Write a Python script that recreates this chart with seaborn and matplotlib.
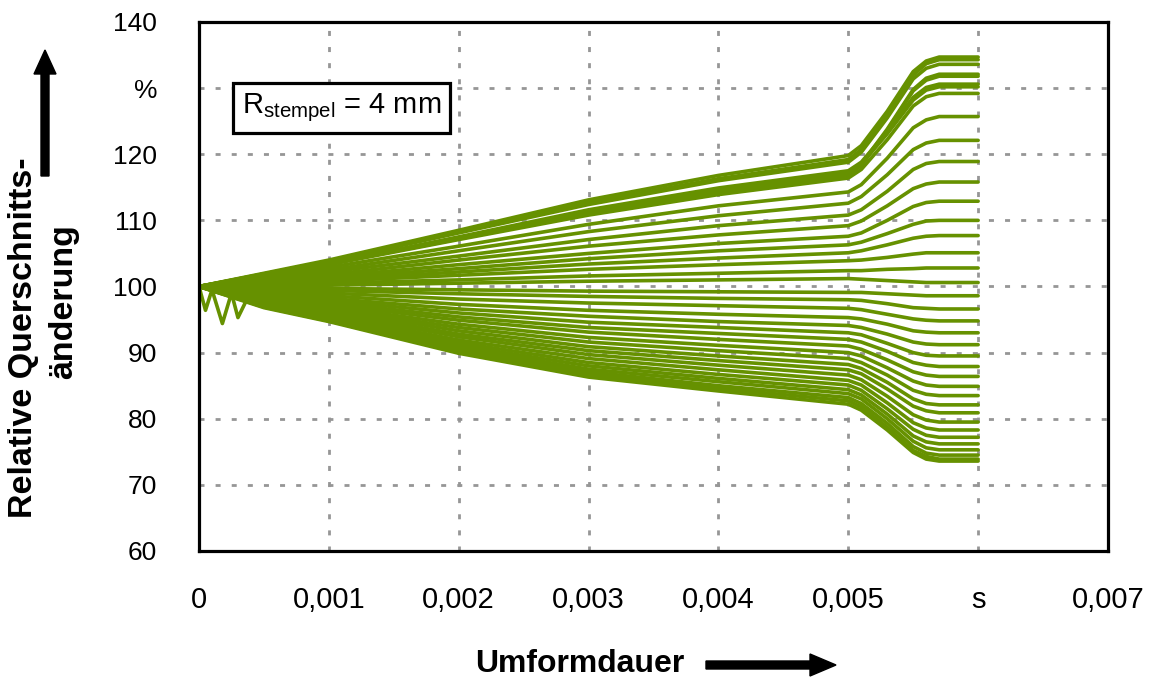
import matplotlib
matplotlib.use("Agg")
import matplotlib.pyplot as plt
import numpy as np
import pandas as pd
import seaborn as sns
from matplotlib.patches import FancyArrow
from matplotlib.transforms import IdentityTransform

# ---------------- data ----------------
time_s = [0, 0.0005, 0.001, 0.002, 0.003, 0.004, 0.005,
          0.0051, 0.0053, 0.0055, 0.0056, 0.0057, 0.006]

q01 = [100, 102.0, 104.0, 108.5, 113.1, 116.8, 119.8, 121.3, 126.5, 132.5, 134.1, 134.7, 134.7]
q02 = [100, 101.9, 103.8, 108.3, 112.7, 116.3, 119.2, 120.7, 126.0, 132.0, 133.7, 134.3, 134.3]
q03 = [100, 101.9, 103.8, 108.1, 112.4, 116.0, 118.8, 120.3, 125.5, 131.4, 133.0, 133.6, 133.6]
q04 = [100, 101.7, 103.4, 107.3, 111.2, 114.5, 117.0, 118.5, 123.8, 129.8, 131.5, 132.1, 132.1]
q05 = [100, 101.7, 103.4, 107.2, 111.1, 114.3, 116.8, 118.3, 123.6, 129.6, 131.2, 131.8, 131.8]
q06 = [100, 101.8, 103.5, 107.5, 111.6, 114.9, 117.5, 118.8, 123.4, 128.6, 130.1, 130.6, 130.6]
q07 = [100, 101.7, 103.4, 107.4, 111.4, 114.6, 117.2, 118.5, 123.1, 128.2, 129.7, 130.2, 130.2]
q08 = [100, 101.6, 103.3, 107.1, 110.8, 113.9, 116.4, 117.7, 122.2, 127.3, 128.7, 129.2, 129.2]
q09 = [100, 101.4, 102.9, 106.1, 109.4, 112.2, 114.3, 115.4, 119.4, 124.0, 125.2, 125.7, 125.7]
q10 = [100, 101.3, 102.5, 105.4, 108.3, 110.7, 112.6, 113.6, 116.9, 120.7, 121.7, 122.1, 122.1]
q11 = [100, 101.1, 102.2, 104.6, 107.1, 109.2, 110.8, 111.6, 114.4, 117.7, 118.6, 118.9, 118.9]
q12 = [100, 100.9, 101.8, 104.0, 106.1, 107.8, 109.2, 109.9, 112.2, 114.8, 115.5, 115.8, 115.8]
q13 = [100, 100.8, 101.5, 103.3, 105.0, 106.5, 107.6, 108.1, 110.0, 112.1, 112.7, 112.9, 112.9]
q14 = [100, 100.6, 101.3, 102.7, 104.2, 105.4, 106.3, 106.7, 108.0, 109.4, 109.9, 110.0, 110.0]
q15 = [100, 100.5, 101.0, 102.2, 103.4, 104.3, 105.1, 105.4, 106.3, 107.3, 107.6, 107.7, 107.7]
q16 = [100, 100.4, 100.8, 101.7, 102.6, 103.3, 103.9, 104.0, 104.4, 104.9, 105.1, 105.1, 105.1]
q17 = [100, 100.2, 100.5, 101.0, 101.6, 102.0, 102.4, 102.4, 102.6, 102.7, 102.8, 102.8, 102.8]
q18 = [100, 100.1, 100.2, 100.5, 100.8, 101.0, 101.2, 101.1, 100.9, 100.7, 100.6, 100.6, 100.6]
q19 = [100, 99.8, 99.7, 99.5, 99.3, 99.2, 99.1, 99.1, 98.9, 98.7, 98.6, 98.6, 98.6]
q20 = [100, 99.6, 99.4, 98.9, 98.5, 98.2, 98.0, 97.9, 97.4, 96.8, 96.7, 96.6, 96.6]
q21 = [100, 99.4, 99.0, 98.1, 97.5, 97.1, 96.7, 96.5, 95.8, 95.1, 94.9, 94.8, 94.8]
q22 = [100, 99.2, 98.6, 97.3, 96.4, 95.8, 95.3, 95.1, 94.3, 93.3, 93.1, 93.0, 93.0]
q23 = [100, 98.9, 98.2, 96.6, 95.5, 94.7, 94.1, 93.8, 92.8, 91.6, 91.3, 91.2, 91.2]
q24 = [100, 98.7, 97.9, 96.0, 94.6, 93.8, 93.0, 92.7, 91.4, 90.0, 89.6, 89.5, 89.5]
q25 = [100, 98.6, 97.6, 95.4, 93.8, 92.9, 92.0, 91.6, 90.2, 88.5, 88.1, 87.9, 87.9]
q26 = [100, 98.4, 97.3, 94.9, 93.1, 92.0, 91.0, 90.5, 88.9, 87.1, 86.6, 86.4, 86.4]
q27 = [100, 98.2, 97.0, 94.3, 92.3, 91.1, 90.0, 89.5, 87.7, 85.7, 85.1, 84.9, 84.9]
q28 = [100, 98.0, 96.7, 93.8, 91.6, 90.3, 89.1, 88.5, 86.6, 84.3, 83.7, 83.5, 83.5]
q29 = [100, 97.9, 96.5, 93.3, 90.9, 89.5, 88.2, 87.6, 85.5, 83.0, 82.3, 82.1, 82.1]
q30 = [100, 97.7, 96.2, 92.8, 90.3, 88.8, 87.4, 86.8, 84.5, 81.9, 81.2, 80.9, 80.9]
q31 = [100, 97.6, 96.0, 92.4, 89.7, 88.1, 86.6, 85.9, 83.4, 80.6, 79.8, 79.5, 79.5]
q32 = [100, 97.4, 95.7, 91.9, 89.1, 87.4, 85.8, 85.1, 82.4, 79.4, 78.6, 78.3, 78.3]
q33 = [100, 97.3, 95.5, 91.5, 88.5, 86.7, 85.1, 84.3, 81.5, 78.4, 77.5, 77.2, 77.2]
q34 = [100, 97.2, 95.3, 91.1, 88.0, 86.1, 84.4, 83.6, 80.7, 77.4, 76.5, 76.2, 76.2]
q35 = [100, 97.1, 95.1, 90.8, 87.5, 85.6, 83.8, 83.0, 80.0, 76.6, 75.6, 75.3, 75.3]
q36 = [100, 97.0, 95.0, 90.4, 87.1, 85.0, 83.2, 82.3, 79.3, 75.8, 74.8, 74.5, 74.5]
q37 = [100, 96.9, 94.8, 90.1, 86.7, 84.6, 82.7, 81.8, 78.7, 75.2, 74.3, 73.9, 73.9]
q38 = [100, 96.8, 94.7, 89.9, 86.3, 84.2, 82.2, 81.3, 78.3, 74.9, 73.9, 73.6, 73.6]

# start-up transient near t = 0
jitter_t = [0, 0.00005, 0.0001, 0.00018, 0.00025, 0.0003, 0.00038, 0.00044, 0.0005]
jitter_v = [100, 96.4, 99.5, 94.4, 99.0, 95.3, 98.5, 97.3, 98.3]

x_ticks = [0, 0.001, 0.002, 0.003, 0.004, 0.005, 0.006, 0.007]
x_ticklabels = ["0", "0,001", "0,002", "0,003", "0,004", "0,005", "s", "0,007"]
y_ticks = [60, 70, 80, 90, 100, 110, 120, 130, 140]
y_ticklabels = ["60", "70", "80", "90", "100", "110", "120", "%", "140"]

curves = [q01, q02, q03, q04, q05, q06, q07, q08, q09, q10, q11, q12, q13,
          q14, q15, q16, q17, q18, q19, q20, q21, q22, q23, q24, q25, q26,
          q27, q28, q29, q30, q31, q32, q33, q34, q35, q36, q37, q38]

rows = []
for i, c in enumerate(curves):
    for t, v in zip(time_s, c):
        rows.append({"t": t, "v": v, "curve": i})
for t, v in zip(jitter_t, jitter_v):
    rows.append({"t": t, "v": v, "curve": len(curves)})
df = pd.DataFrame(rows)

# ---------------- styling ----------------
sns.set_theme(style="white")
plt.rcParams["font.family"] = ["Liberation Sans", "DejaVu Sans"]
plt.rcParams["text.color"] = "black"
plt.rcParams["axes.labelcolor"] = "black"
plt.rcParams["xtick.color"] = "black"
plt.rcParams["ytick.color"] = "black"

GREEN = "#669100"
W, H = 1154, 679
fig = plt.figure(figsize=(W / 100, H / 100), dpi=100)
ax = fig.add_axes([199 / W, 1 - 551 / H, (1108 - 199) / W, (551 - 22) / H])

sns.lineplot(data=df, x="t", y="v", units="curve", estimator=None,
             color=GREEN, linewidth=2.6, sort=False, legend=False, ax=ax)

ax.set_xlim(0, 0.007)
ax.set_ylim(60, 140)
ax.set_xticks(x_ticks)
ax.set_xticklabels(x_ticklabels, fontsize=21, color="black")
ax.set_yticks(y_ticks)
ax.set_yticklabels(y_ticklabels, fontsize=19, color="black")
ax.tick_params(axis="x", length=0, pad=25)
ax.tick_params(axis="y", length=0, pad=30)
ax.set_xlabel("")
ax.set_ylabel("")

ax.grid(True, color="#969696", linewidth=2.0, linestyle=(0, (1.8, 4.0)))
ax.set_axisbelow(True)
for s in ax.spines.values():
    s.set_visible(True)
    s.set_color("black")
    s.set_linewidth(2.3)

# annotation box
ax.text(0.0011, 127, r"R$_{\mathregular{stempel}}$ = 4 mm", fontsize=21,
        ha="center", va="center", color="black",
        bbox=dict(boxstyle="square,pad=0.3", fc="white", ec="black", lw=2.3))

# axis titles
fig.text(24 / W, 1 - 338 / H, "Relative Querschnitts-", rotation=90,
         fontsize=24.5, fontweight="bold", ha="center", va="center", color="black")
fig.text(64 / W, 1 - 302 / H, "änderung", rotation=90,
         fontsize=24.5, fontweight="bold", ha="center", va="center", color="black")
fig.text(580 / W, 1 - 664 / H, "Umformdauer", fontsize=23,
         fontweight="bold", ha="center", va="center", color="black")

# arrows (pixel coordinates, origin bottom-left)
tr = IdentityTransform()
fig.add_artist(FancyArrow(45, H - 176, 0, 126, width=8, head_width=22,
                          head_length=24, length_includes_head=True,
                          color="black", transform=tr))
fig.add_artist(FancyArrow(706, H - 665, 130, 0, width=8, head_width=22,
                          head_length=26, length_includes_head=True,
                          color="black", transform=tr))

fig.savefig("out.png", dpi=100, facecolor="white")
